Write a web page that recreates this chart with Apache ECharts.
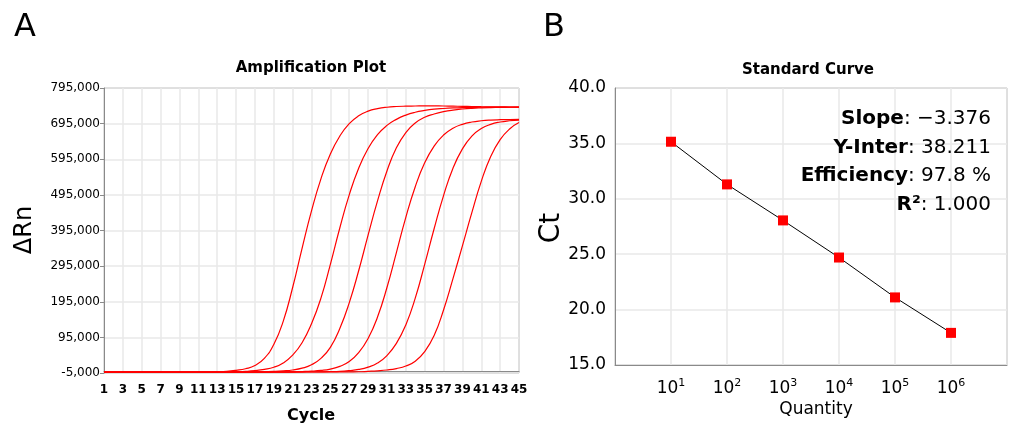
<!DOCTYPE html>
<html>
<head>
<meta charset="utf-8">
<script src="https://cdn.jsdelivr.net/npm/echarts@6/dist/echarts.min.js"></script>
<style>
html,body{margin:0;padding:0;background:#fff;}
#chart{width:1010px;height:426px;}
</style>
</head>
<body>
<div id="chart"></div>
<script>
// ---------- Panel A: Amplification plot ----------
const cycles = [1,2,3,4,5,6,7,8,9,10,11,12,13,14,15,16,17,18,19,20,21,22,23,24,25,26,27,28,29,30,31,32,33,34,35,36,37,38,39,40,41,42,43,44,45];
const ampCurve1 = [-2500,-2500,-2500,-2600,-2600,-2600,-2700,-2700,-2700,-2600,-2500,-2300,-1800,-500,2500,7000,16000,36000,75000,140000,235000,345000,450000,540000,610000,660000,695000,717000,730000,737000,741000,743000,744000,744500,745000,744800,744500,744000,743500,743000,742500,742200,742000,741700,741500];
const ampCurve2 = [-2500,-2500,-2500,-2500,-2600,-2600,-2600,-2700,-2700,-2700,-2600,-2600,-2500,-2200,-1500,-500,1500,5000,11000,23000,45000,80000,133000,205000,300000,402000,495000,570000,625000,664000,690000,707000,719000,727000,732000,735500,737500,739000,740000,740500,741000,741200,741300,741400,741500];
const ampCurve3 = [-2500,-2500,-2500,-2500,-2500,-2600,-2600,-2600,-2700,-2700,-2700,-2700,-2600,-2600,-2500,-2300,-2000,-1300,-500,1000,3500,8500,18000,36000,67000,120000,192000,282000,382000,478000,562000,627000,670000,697000,713000,722000,728500,733000,736000,738000,739200,740000,740500,741000,741200];
const ampCurve4 = [-2500,-2500,-2500,-2500,-2500,-2500,-2600,-2600,-2600,-2700,-2700,-2700,-2700,-2600,-2600,-2600,-2500,-2400,-2200,-1900,-1400,-800,200,2200,6000,13500,27000,52000,92000,152000,235000,333000,432000,518000,585000,632000,663000,682000,693000,699500,703000,705000,706000,706500,707000];
const ampCurve5 = [-2500,-2500,-2500,-2500,-2500,-2500,-2500,-2600,-2600,-2600,-2700,-2700,-2700,-2700,-2600,-2600,-2600,-2500,-2500,-2400,-2300,-2200,-2000,-1700,-1200,-300,1800,5000,11500,23000,44000,78000,130000,205000,300000,400000,493000,570000,624000,660000,681000,693000,699500,703000,705000];
const ampCurve6 = [-2500,-2500,-2500,-2500,-2500,-2500,-2500,-2500,-2600,-2600,-2600,-2700,-2700,-2700,-2700,-2600,-2600,-2600,-2500,-2500,-2400,-2300,-2200,-2100,-2000,-1900,-1700,-1500,-300,1200,3500,7500,14500,28000,55000,100000,172000,260000,352000,445000,533000,603000,650000,680000,698000];
const ampCurves = [ampCurve1, ampCurve2, ampCurve3, ampCurve4, ampCurve5, ampCurve6];

// ---------- Panel B: Standard curve ----------
const quantities = [10, 100, 1000, 10000, 100000, 1000000];
const ctValues = [35.15, 31.3, 28.05, 24.7, 21.1, 17.9];
const statNames = ['Slope', 'Y-Inter', 'Efficiency', 'R²'];
const statValues = ['−3.376', '38.211', '97.8 %', '1.000'];

const FONT = 'DejaVu Sans';
const chart = echarts.init(document.getElementById('chart'), null, {renderer: 'canvas'});

const ampSeries = ampCurves.map((c) => ({
  type: 'line',
  xAxisIndex: 0, yAxisIndex: 0,
  data: cycles.map((x, j) => [x, c[j]]),
  showSymbol: false,
  smooth: 0.5,
  lineStyle: {color: '#ff0000', width: 1.2},
  silent: true
}));

const statText = statNames.map((n, i) => '{b|' + n + '}{r|: ' + statValues[i] + '}').join('\n');

chart.setOption({
  animation: false,
  backgroundColor: '#ffffff',
  grid: [
    {left: 104, top: 88, width: 415, height: 285, show: true, borderColor: '#8a8a8a', borderWidth: 1, containLabel: false},
    {left: 615, top: 88, width: 393, height: 277, show: true, borderColor: '#8a8a8a', borderWidth: 1, containLabel: false}
  ],
  xAxis: [
    {
      gridIndex: 0, type: 'value', min: 1, max: 45, interval: 2,
      axisLine: {show: true, lineStyle: {color: '#8a8a8a'}},
      axisTick: {show: false},
      axisLabel: {fontFamily: FONT, fontSize: 12, fontWeight: 'bold', color: '#000', margin: 11},
      splitLine: {show: true, lineStyle: {color: '#e8e8e8', width: 1.5}}
    },
    {
      gridIndex: 1, type: 'log', logBase: 10, min: 1, max: 10000000,
      axisLine: {show: true, lineStyle: {color: '#8a8a8a'}},
      axisTick: {show: false},
      axisLabel: {
        color: '#000', margin: 13,
        formatter: function (v) {
          const n = Math.round(Math.log10(v));
          if (n < 1 || n > 6) return '';
          return '{b|10}{s|' + n + '}';
        },
        rich: {
          b: {fontFamily: FONT, fontSize: 17, color: '#000', lineHeight: 21},
          s: {fontFamily: FONT, fontSize: 11, color: '#000', lineHeight: 12, verticalAlign: 'top'}
        }
      },
      splitLine: {show: true, lineStyle: {color: '#e8e8e8', width: 1.5}},
      minorSplitLine: {show: false}
    }
  ],
  yAxis: [
    {
      gridIndex: 0, type: 'value', min: -5000, max: 795000, interval: 100000,
      axisLine: {show: true, lineStyle: {color: '#8a8a8a'}},
      axisTick: {show: true, length: 4, lineStyle: {color: '#8a8a8a'}},
      axisLabel: {fontFamily: FONT, fontSize: 12, color: '#000', margin: 4,
        formatter: v => Math.round(v).toLocaleString('en-US')},
      splitLine: {show: true, lineStyle: {color: '#e8e8e8', width: 1.5}}
    },
    {
      gridIndex: 1, type: 'value', min: 15, max: 40, interval: 5,
      axisLine: {show: true, lineStyle: {color: '#8a8a8a'}},
      axisTick: {show: false},
      axisLabel: {fontFamily: FONT, fontSize: 17, color: '#000', margin: 9,
        formatter: v => v.toFixed(1)},
      splitLine: {show: true, lineStyle: {color: '#e8e8e8', width: 1.5}}
    }
  ],
  series: ampSeries.concat([
    {
      type: 'line', xAxisIndex: 1, yAxisIndex: 1,
      data: quantities.map((q, i) => [q, ctValues[i]]),
      showSymbol: false, smooth: false,
      lineStyle: {color: '#000', width: 1}, z: 2, silent: true
    },
    {
      type: 'scatter', xAxisIndex: 1, yAxisIndex: 1,
      data: quantities.map((q, i) => [q, ctValues[i]]),
      symbol: 'rect', symbolSize: 10,
      itemStyle: {color: '#ff0000', opacity: 1}, z: 3, silent: true
    }
  ]),
  graphic: [
    {type: 'text', left: 14, top: 12, z: 100, style: {text: 'A', fontFamily: FONT, fontSize: 32, fill: '#000'}},
    {type: 'text', left: 543, top: 12, z: 100, style: {text: 'B', fontFamily: FONT, fontSize: 32, fill: '#000'}},
    {type: 'text', x: 311, y: 68, z: 100, style: {text: 'Amplification Plot', fontFamily: FONT, fontSize: 15, fontWeight: 'bold', fill: '#000', align: 'center', verticalAlign: 'middle'}},
    {type: 'text', x: 808, y: 70, z: 100, style: {text: 'Standard Curve', fontFamily: FONT, fontSize: 15, fontWeight: 'bold', fill: '#000', align: 'center', verticalAlign: 'middle'}},
    {type: 'text', x: 311, y: 416, z: 100, style: {text: 'Cycle', fontFamily: FONT, fontSize: 16, fontWeight: 'bold', fill: '#000', align: 'center', verticalAlign: 'middle'}},
    {type: 'text', x: 816, y: 410, z: 100, style: {text: 'Quantity', fontFamily: FONT, fontSize: 17, fill: '#000', align: 'center', verticalAlign: 'middle'}},
    {type: 'text', x: 25, y: 230, rotation: Math.PI / 2, z: 100, style: {text: 'ΔRn', fontFamily: FONT, fontSize: 24, fill: '#000', align: 'center', verticalAlign: 'middle'}},
    {type: 'text', x: 552, y: 228, rotation: Math.PI / 2, z: 100, style: {text: 'Ct', fontFamily: FONT, fontSize: 28, fill: '#000', align: 'center', verticalAlign: 'middle'}},
    {type: 'text', x: 991, y: 105, z: 100, style: {
      text: statText, align: 'right', verticalAlign: 'top',
      rich: {
        b: {fontFamily: FONT, fontSize: 20, fontWeight: 'bold', fill: '#000', lineHeight: 28.5},
        r: {fontFamily: FONT, fontSize: 20, fill: '#000', lineHeight: 28.5}
      }
    }}
  ]
});
</script>
</body>
</html>
